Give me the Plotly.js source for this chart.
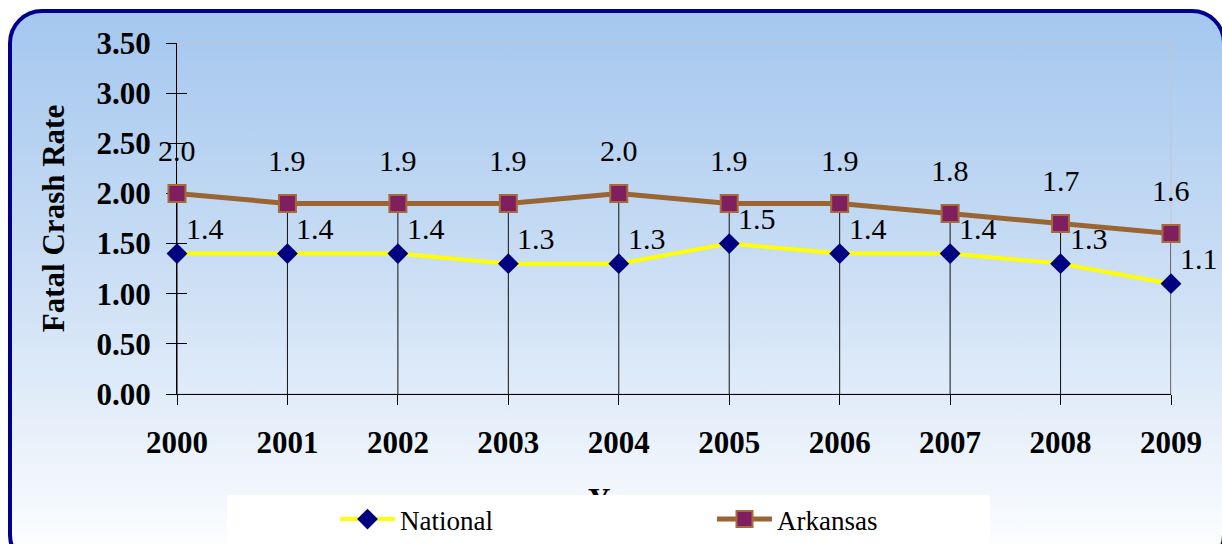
<!DOCTYPE html>
<html><head><meta charset="utf-8">
<script src="https://cdn.plot.ly/plotly-3.0.1.min.js"></script>
<style>
html,body{margin:0;padding:0;background:#ffffff;overflow:hidden;}
#bg{position:absolute;left:8px;top:9px;width:1218px;height:560px;box-sizing:border-box;border:4px solid #00008B;border-radius:34px;background:linear-gradient(to bottom,#A4C7EF 0%,#C9DDF4 45%,#FFFFFF 100%);}
#chart{position:absolute;left:0;top:0;width:1222px;height:544px;}
</style></head><body>
<div id="bg"></div><div id="chart"></div>
<script>
const years = [2000, 2001, 2002, 2003, 2004, 2005, 2006, 2007, 2008, 2009];
const yearLabels = ['2000','2001','2002','2003','2004','2005','2006','2007','2008','2009'];
const national = [1.4, 1.4, 1.4, 1.3, 1.3, 1.5, 1.4, 1.4, 1.3, 1.1];
const arkansas = [2.0, 1.9, 1.9, 1.9, 2.0, 1.9, 1.9, 1.8, 1.7, 1.6];
const yTicks = [0, 0.5, 1, 1.5, 2, 2.5, 3, 3.5];
const yTickLabels = ['0.00','0.50','1.00','1.50','2.00','2.50','3.00','3.50'];
const seriesNames = ['National', 'Arkansas'];
const yTitle = 'Fatal Crash Rate';
const xTitle = 'Year';

const serif = '"Liberation Serif", "Times New Roman", serif';

// drop lines from the highest point of each category down to the axis
const dropTop = years.map((y, i) => Math.max(national[i], arkansas[i]));

const traces = [
  {
    x: years, y: dropTop, type: 'scatter', mode: 'markers',
    marker: {size: 1, opacity: 0}, showlegend: false, hoverinfo: 'skip', cliponaxis: false,
    error_y: {type: 'data', symmetric: false, array: years.map(() => 0), arrayminus: dropTop,
              width: 0, color: '#111111', thickness: 1}
  },
  {
    x: years, y: national, type: 'scatter', mode: 'lines+markers', name: seriesNames[0],
    line: {color: '#FFFF00', width: 4},
    marker: {symbol: 'diamond', size: 16, color: '#000080', line: {width: 0}},
    cliponaxis: false, legend: 'legend'
  },
  {
    x: years, y: arkansas, type: 'scatter', mode: 'lines+markers', name: seriesNames[1],
    line: {color: '#996633', width: 5},
    marker: {symbol: 'square', size: 17, color: '#7F1F5F', line: {width: 2, color: '#A5693A'}},
    cliponaxis: false, legend: 'legend2'
  }
];

const annotations = [];
years.forEach((yr, i) => {
  annotations.push({x: yr, y: national[i], xref: 'x', yref: 'y', text: national[i].toFixed(1),
    showarrow: false, xanchor: 'left', yanchor: 'middle', xshift: 7, yshift: 25,
    font: {family: serif, size: 30, color: '#000'}});
  annotations.push({x: yr, y: arkansas[i], xref: 'x', yref: 'y', text: arkansas[i].toFixed(1),
    showarrow: false, xanchor: 'center', yanchor: 'middle', xshift: 0, yshift: 43,
    font: {family: serif, size: 30, color: '#000'}});
});
annotations.push({x: 0.4115, y: -0.246, xref: 'paper', yref: 'paper', text: '<b>' + xTitle + '</b>',
  showarrow: false, xanchor: 'left', yanchor: 'top', font: {family: serif, size: 31, color: '#000'}});

const layout = {
  width: 1222, height: 544,
  margin: {l: 177, r: 51, t: 43, b: 150, pad: 0, autoexpand: false},
  paper_bgcolor: 'rgba(0,0,0,0)', plot_bgcolor: 'rgba(0,0,0,0)',
  font: {family: serif, color: '#000'},
  xaxis: {
    range: [2000, 2009], tickvals: years, ticktext: yearLabels, automargin: false,
    ticks: 'outside', ticklen: 10, tickcolor: '#000', tickwidth: 1,
    showline: true, linecolor: '#000', linewidth: 1, showgrid: false, zeroline: false,
    tickfont: {family: serif, size: 31, color: '#000', weight: 'bold'},
    ticklabelstandoff: 11, layer: 'below traces'
  },
  yaxis: {
    range: [0, 3.5], tickvals: yTicks, ticktext: yTickLabels, automargin: false,
    ticks: 'outside', ticklen: 10, tickcolor: '#000', tickwidth: 1,
    showline: true, linecolor: '#000', linewidth: 1, showgrid: false, zeroline: false,
    tickfont: {family: serif, size: 31, color: '#000', weight: 'bold'},
    ticklabelstandoff: 9, layer: 'below traces',
    title: {text: yTitle, font: {family: serif, size: 31, color: '#000', weight: 'bold'}, standoff: 22}
  },
  yaxis2: {
    overlaying: 'y', matches: 'y', range: [0, 3.5], tickvals: yTicks, side: 'left', automargin: false,
    ticks: 'inside', ticklen: 10, tickcolor: '#000', showticklabels: false,
    showline: false, showgrid: false, zeroline: false, layer: 'below traces'
  },
  shapes: [
    {type: 'rect', xref: 'x domain', yref: 'y domain', x0: 0, x1: 1, y0: 0, y1: 1,
     line: {color: '#BFC7D0', width: 1}, layer: 'below'}
  ],
  annotations: annotations,
  legend: {
    orientation: 'h', xref: 'container', yref: 'container',
    x: 227 / 1222, xanchor: 'left', y: 1 - 495 / 544, yanchor: 'top',
    bgcolor: '#FFFFFF', borderwidth: 0, indentation: 108, entrywidth: 204, itemwidth: 55,
    font: {family: serif, size: 27, color: '#000'}
  },
  legend2: {
    orientation: 'h', xref: 'container', yref: 'container',
    x: 609 / 1222, xanchor: 'left', y: 1 - 495 / 544, yanchor: 'top',
    bgcolor: '#FFFFFF', borderwidth: 0, indentation: 103, entrywidth: 208, itemwidth: 55,
    font: {family: serif, size: 27, color: '#000'}
  },
  showlegend: true
};

// invisible helper trace to keep yaxis2 active
traces.push({x: [years[0]], y: [yTicks[0]], yaxis: 'y2', type: 'scatter', mode: 'markers',
  marker: {opacity: 0}, showlegend: false, hoverinfo: 'skip'});

Plotly.newPlot('chart', traces, layout, {displayModeBar: false, staticPlot: true}).then(gd => {
  const info = gd.querySelector('.infolayer');
  if (info) {
    Array.from(info.children).forEach(n => {
      const c = n.getAttribute('class') || '';
      if (/^legend/.test(c)) info.appendChild(n);
    });
  }
});
</script>
</body></html>
